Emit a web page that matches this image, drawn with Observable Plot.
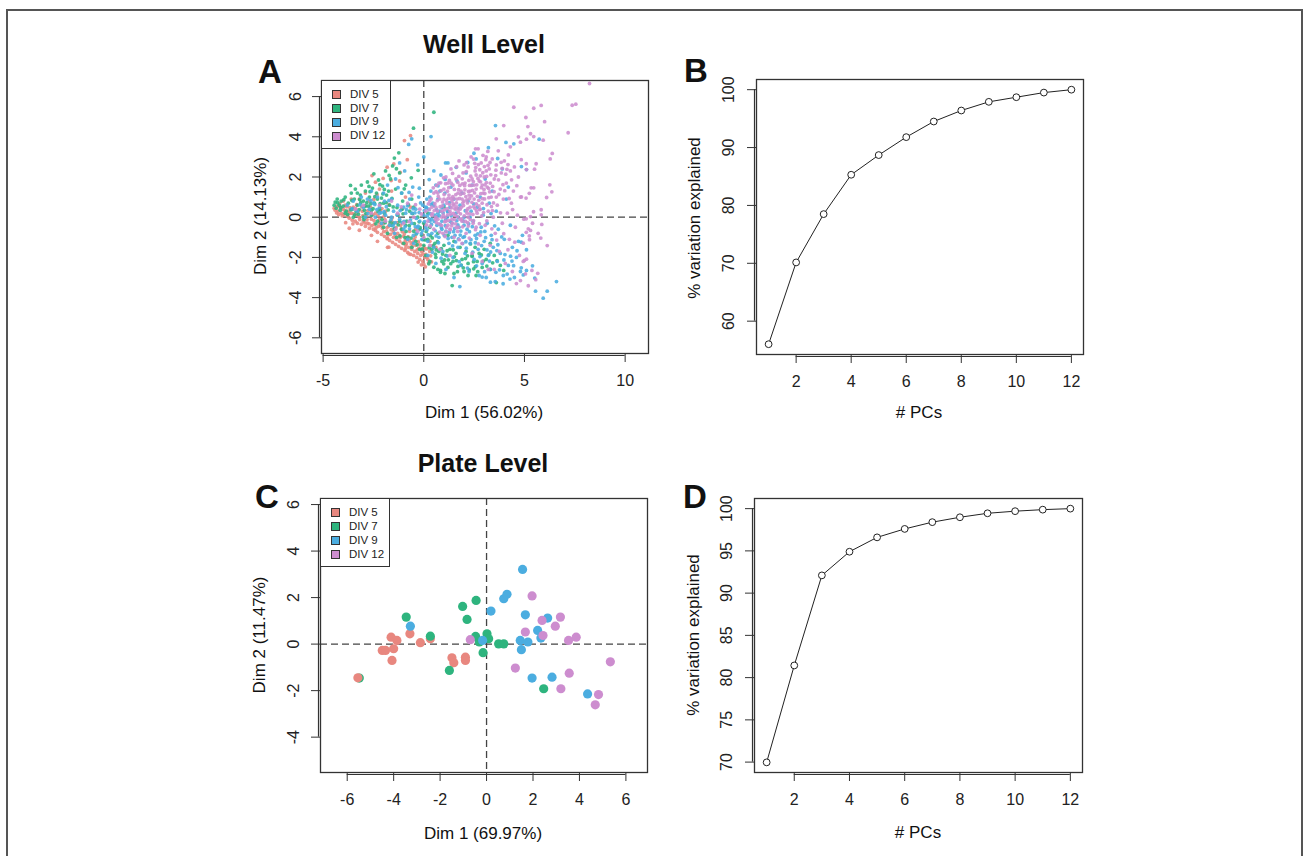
<!DOCTYPE html>
<html><head><meta charset="utf-8">
<script src="https://cdn.jsdelivr.net/npm/d3@7"></script>
<script src="https://cdn.jsdelivr.net/npm/@observablehq/plot@0.6"></script>
<style>
body{margin:0;background:#fff;font-family:"Liberation Sans",Arial,Helvetica,sans-serif;}
#page{position:relative;width:1308px;height:856px;overflow:hidden;background:#fff;}
.outer{position:absolute;left:6px;top:9px;width:1297px;height:870px;border:2.5px solid #555;box-sizing:border-box;}
.panel{position:absolute;}
.t{position:absolute;white-space:nowrap;color:#111;line-height:1;transform:translate(-50%,-50%);}
.legend{position:absolute;border:1.3px solid #333;box-sizing:border-box;background:#fff;}
.li{position:absolute;left:9px;font-size:11.5px;color:#222;line-height:1;}
.sw{position:absolute;width:9px;height:9px;border:1px solid #333;box-sizing:border-box;}
svg text{font-family:"Liberation Sans",Arial,Helvetica,sans-serif;}
</style></head>
<body><div id="page"><div class="outer"></div></div>
<script>
// ---------- data ----------
const groups = ["DIV 5", "DIV 7", "DIV 9", "DIV 12"];
const groupColors = ["#E8877F", "#2EB47E", "#4BADE0", "#CD8DCF"];

const pcs = [1,2,3,4,5,6,7,8,9,10,11,12];
const wellVarExplained = [56.02, 70.15, 78.5, 85.3, 88.7, 91.8, 94.5, 96.4, 97.9, 98.7, 99.5, 100];
const plateVarExplained = [69.97, 81.44, 92.1, 94.9, 96.6, 97.6, 98.4, 98.98, 99.45, 99.7, 99.88, 100];

const wellXTicks = [-5, 0, 5, 10];
const wellYTicks = [-6, -4, -2, 0, 2, 4, 6];
const plateXTicks = [-6, -4, -2, 0, 2, 4, 6];
const plateYTicks = [-4, -2, 0, 2, 4, 6];
const pcTicks = [2, 4, 6, 8, 10, 12];
const wellVarTicks = [60, 70, 80, 90, 100];
const plateVarTicks = [70, 75, 80, 85, 90, 95, 100];

// Well level PCA scores
const wellDiv5 = [[-4.45,0.45],[-4.4,0.35],[-4.3,0.55],[-4.25,0.3],[-4.15,0.5],[-4.1,0.2],[-4.0,0.4],[-3.95,0.15],[-3.9,0.6],[-3.8,0.05],[-3.75,0.3],[-3.7,-0.05],[-3.6,0.2],[-3.55,-0.15],[-3.5,0.5],[-3.4,-0.2],[-3.35,0.1],[-3.3,-0.3],[-3.2,0.0],[-3.1,-0.35],[-3.05,0.3],[-3.0,-0.2],[-2.9,-0.45],[-2.85,0.1],[-2.8,-0.3],[-2.7,-0.55],[-2.65,0.5],[-2.6,-0.1],[-2.5,-0.6],[-2.45,-0.35],[-2.4,0.2],[-2.3,-0.75],[-2.25,-0.45],[-2.2,-0.1],[-2.1,-0.85],[-2.05,-0.55],[-2.0,-0.3],[-1.95,-0.95],[-1.9,0.3],[-1.85,-0.7],[-1.8,-1.05],[-1.75,-0.45],[-1.7,-1.15],[-1.65,-0.85],[-1.6,-0.2],[-1.55,-1.25],[-1.5,-1.0],[-1.45,-0.6],[-1.4,-1.35],[-1.35,-1.1],[-1.3,-0.8],[-1.25,-1.45],[-1.2,-1.2],[-1.15,-0.4],[-1.1,-1.55],[-1.05,-1.3],[-1.0,-0.95],[-0.95,-1.65],[-0.9,-1.4],[-0.85,-1.1],[-0.8,-1.75],[-0.75,-1.5],[-0.7,-0.7],[-0.65,-1.85],[-0.6,-1.6],[-0.55,-1.25],[-0.5,-1.9],[-0.45,-1.7],[-0.4,-1.4],[-0.35,-2.0],[-0.3,-1.8],[-0.25,-1.55],[-0.2,-2.1],[-0.15,-1.9],[-0.1,-1.7],[-0.05,-2.2],[0.0,-2.35],[0.05,-2.0],[0.1,-1.85],[0.2,-2.1],[0.3,-1.7],[-0.66,4.06],[-0.96,3.81],[-1.49,2.65],[-1.82,2.49],[-2.57,2.07],[-2.4,1.74],[-0.91,1.0],[-0.66,0.5],[-2.2,1.4],[-2.9,1.2],[-3.2,0.9],[-1.2,1.8],[-1.6,1.3],[-2.7,0.8],[-3.6,0.9],[-4.0,0.8],[-1.1,0.4],[-0.4,-0.6],[0.3,-1.2],[0.6,-1.5],[-3.7,-0.55],[-3.2,-0.65],[-2.3,-1.2],[-1.8,-1.5],[-2.6,-0.9],[-2.72,-0.33],[-2.4,-0.66],[-1.82,-1.07],[-1.74,-1.49],[-0.91,-1.57],[-0.74,-1.82],
  [-4.23,0.13],[-3.92,0.33],[-3.67,0.48],[-3.48,0.17],[-3.27,0.27],[-3.02,0.08],[-2.82,-0.12],[-2.63,0.23],[-2.47,-0.17],[-2.28,0.08],[-2.13,-0.42],[-1.97,0.05],[-1.83,-0.52],[-1.68,-0.33],[-1.52,-0.73],[-1.38,-0.52],[-1.22,-0.93],[-1.07,-0.72],[-0.92,-1.18],[-0.77,-0.98],[-0.62,-1.33],[-0.48,-1.12],[-0.33,-1.63],[-0.17,-1.38],[-0.04,-1.83],[0.13,-1.58],[0.24,-2.27],[-0.12,-2.37],[-0.28,-2.23],[-2.92,0.57],[-2.48,0.88],[-2.08,0.43],[-1.73,0.62],[-1.28,0.13],[-3.33,0.62],[-2.32,1.12],[-1.62,1.82],[-1.17,2.23],[-0.82,2.86],[-2.02,1.93],
  [-4.33,0.22],[-4.18,0.68],[-4.05,0.07],[-3.83,0.52],[-3.71,0.18],[-3.52,-0.33],[-3.38,0.42],[-3.18,-0.12],[-3.08,0.52],[-2.93,-0.28],[-2.78,0.32],[-2.58,-0.42],[-2.52,0.12],[-2.37,-0.52],[-2.21,-0.27],[-2.16,0.33],[-1.99,-0.72],[-1.93,-0.12],[-1.78,-0.88],[-1.62,-0.62],[-1.57,-0.03],[-1.42,-0.88],[-1.33,-0.27],[-1.18,-1.02],[-1.12,-0.58],[-0.97,-0.83],[-0.86,-1.32],[-0.72,-1.18],[-0.57,-1.47],[-0.43,-0.98],[-0.27,-1.22],[-0.13,-1.62],[0.02,-1.52],[0.16,-1.98],[0.34,-1.92],[0.44,-1.42],[-0.06,-0.88],[0.08,-2.47],[0.38,-2.22],[-3.88,-0.27]];

const wellDiv7 = [[-4.45,0.6],[-4.4,0.75],[-4.35,0.45],[-4.3,0.9],[-4.2,0.6],[-4.15,0.35],[-4.1,0.8],[-4.0,0.55],[-3.9,1.0],[-3.85,0.3],[-3.75,0.7],[-3.64,1.58],[-3.6,1.2],[-3.55,0.4],[-3.45,0.9],[-3.4,1.4],[-3.3,0.6],[-3.25,0.15],[-3.15,1.1],[-3.1,1.6],[-3.0,0.8],[-2.95,0.35],[-2.9,1.3],[-2.8,1.75],[-2.75,0.55],[-2.7,1.0],[-2.6,0.1],[-2.55,1.45],[-2.48,2.16],[-2.45,0.7],[-2.35,1.2],[-2.3,-0.2],[-2.25,1.85],[-2.2,0.4],[-2.1,0.95],[-2.05,1.55],[-2.0,-0.5],[-1.95,0.2],[-1.9,2.3],[-1.85,1.1],[-1.8,-0.8],[-1.7,0.6],[-1.65,1.9],[-1.6,-0.4],[-1.55,2.55],[-1.46,2.94],[-1.4,1.4],[-1.35,-1.0],[-1.3,0.1],[-1.24,3.2],[-1.2,2.2],[-1.1,-0.6],[-1.05,0.8],[-1.0,-1.3],[-0.9,1.6],[-0.85,-0.2],[-0.8,-1.0],[-0.7,0.3],[-0.6,-1.5],[-0.51,4.43],[-0.5,-0.7],[-0.4,-1.2],[-0.3,0.0],[-0.2,-1.6],[-0.1,-0.9],[0.0,-1.4],[0.5,5.22],[0.1,-1.9],[0.2,-1.1],[0.3,-2.2],[0.4,-1.6],[0.5,-2.49],[0.55,-1.3],[0.6,-2.0],[0.7,-2.6],[0.75,-1.7],[0.83,-2.74],[0.9,-2.2],[1.0,-1.4],[1.05,-2.8],[1.1,-1.9],[1.2,-2.5],[1.3,-1.6],[1.41,-3.4],[1.45,-2.2],[1.5,-2.8],[1.6,-1.8],[1.7,-2.45],[1.8,-1.5],[1.9,-2.1],[2.0,-2.7],[2.1,-1.7],[2.2,-2.3],[2.32,-1.33],[2.4,-1.9],[2.48,-2.57],[2.55,-1.5],[2.65,-2.2],[2.75,-1.8],[2.9,-2.5],[3.0,-1.6],[3.1,-2.1],[3.3,-2.6],[3.5,-1.9],[3.64,-2.16],[3.8,-2.4],[3.97,-2.65],[3.6,-3.25],[2.2,-2.9],[0.3,-0.5],[0.7,-0.8],[1.2,-0.9],[0.0,-0.3],[-0.5,0.5],[-0.9,-0.4],[1.5,-1.2],[2.6,-2.9],[3.3,-1.3],[0.2,0.2],[1.0,0.5],[-1.5,-0.3],[-2.6,0.35],[-3.0,0.0],[-3.5,0.0],[-3.9,0.2],[-2.0,0.7],[-1.2,-0.2],[0.83,-2.65],[0.99,-2.32],[0.25,-2.32],[2.4,-1.95],[-3.3,1.2],[-2.9,0.55],[-2.3,0.9],[-1.75,1.3],[-1.1,1.2],[-0.6,0.9],[-0.2,-0.6],
  [-3.62,0.37],[-3.43,0.12],[-3.21,0.38],[-2.97,-0.12],[-2.83,0.72],[-2.67,1.27],[-2.52,0.42],[-2.38,-0.33],[-2.17,0.67],[-2.03,1.16],[-1.92,-0.27],[-1.77,0.36],[-1.58,0.93],[-1.47,-0.57],[-1.33,0.48],[-1.18,-0.93],[-1.03,0.17],[-0.88,-0.71],[-0.76,0.62],[-0.63,-1.04],[-0.47,-0.32],[-0.33,-1.37],[-0.18,-0.52],[-0.04,-1.12],[0.12,-0.71],[0.27,-1.52],[0.42,-1.03],[0.58,-1.84],[0.68,-1.22],[0.87,-1.56],[1.03,-2.13],[1.16,-1.67],[1.34,-2.31],[1.52,-1.97],[1.67,-2.71],[1.86,-2.38],[2.07,-2.06],[2.26,-2.62],[2.47,-2.21],[2.68,-2.71],[2.86,-1.88],[3.13,-2.43],[3.42,-2.27],[-2.18,1.62],[-1.72,2.08],[-1.36,2.41],[-1.96,1.38],[-2.72,1.53],[-3.18,0.88],[-0.97,1.41],[-0.62,1.96],[-0.28,2.33],
  [-4.28,0.72],[-4.12,0.47],[-3.97,0.87],[-3.78,0.13],[-3.57,0.83],[-3.36,0.28],[-3.13,0.72],[-2.88,0.18],[-2.63,0.67],[-2.43,1.02],[-2.27,0.28],[-2.07,-0.12],[-1.87,0.73],[-1.67,-0.23],[-1.52,0.51],[-1.27,-0.38],[-1.08,0.39],[-0.93,-1.02],[-0.72,-0.42],[-0.56,0.18],[-0.38,-0.83],[-0.23,-0.23],[-0.08,-1.58],[0.07,-1.13],[0.33,-0.92],[0.48,-1.43],[0.62,-1.63],[0.93,-1.83],[1.22,-2.12],[1.46,-1.62],[1.62,-2.16],[1.96,-2.52],[2.17,-1.92],[2.56,-2.46],[2.96,-2.18],[3.23,-1.87]];

const wellDiv9 = [[-3.8,0.6],[-3.5,0.8],[-3.3,0.3],[-3.1,1.0],[-3.0,0.5],[-2.9,0.0],[-2.8,0.9],[-2.7,0.4],[-2.6,1.3],[-2.5,0.7],[-2.4,0.0],[-2.3,1.0],[-2.2,0.5],[-2.1,-0.3],[-2.0,1.2],[-1.95,0.8],[-1.9,0.1],[-1.8,1.6],[-1.7,-0.4],[-1.6,0.9],[-1.5,0.3],[-1.45,-0.8],[-1.4,1.9],[-1.3,0.6],[-1.2,-0.1],[-1.1,1.2],[-1.0,-0.6],[-0.95,2.3],[-0.9,0.2],[-0.8,-1.1],[-0.75,3.62],[-0.7,0.9],[-0.6,-0.3],[-0.55,1.5],[-0.5,-1.3],[-0.4,0.4],[-0.35,-0.8],[-0.3,2.6],[-0.25,1.0],[-0.2,-0.2],[-0.1,-1.1],[-0.05,0.6],[0.36,4.01],[-0.6,3.9],[0.0,0.1],[0.1,-0.5],[0.15,0.9],[0.2,-1.2],[0.25,0.4],[0.3,-0.2],[0.35,1.3],[0.4,-0.8],[0.45,0.7],[0.5,-1.5],[0.55,0.1],[0.6,1.6],[0.65,-0.4],[0.7,0.9],[0.75,-1.0],[0.8,0.3],[0.85,2.1],[0.9,-0.2],[0.95,-1.7],[1.0,0.6],[1.05,1.2],[1.1,-0.7],[1.15,0.0],[1.2,2.7],[1.25,-1.3],[1.3,0.5],[1.35,1.5],[1.4,-0.3],[1.45,-2.0],[1.5,0.9],[1.55,-0.9],[1.6,0.2],[1.65,1.8],[1.7,-1.5],[1.75,-0.5],[1.8,0.6],[1.85,-2.4],[1.9,1.2],[1.95,-1.0],[2.0,0.0],[2.05,-1.8],[2.1,2.2],[2.15,-0.6],[2.2,0.8],[2.25,-2.7],[2.3,-1.3],[2.35,0.3],[2.4,1.6],[2.45,-0.2],[2.5,-2.1],[2.55,-0.9],[2.6,2.9],[2.65,0.5],[2.7,-1.6],[2.75,-2.9],[2.8,1.0],[2.85,-0.5],[2.9,-2.3],[2.95,0.1],[3.0,-1.2],[3.05,1.9],[3.1,-3.0],[3.15,-0.3],[3.2,-1.9],[3.25,0.7],[3.3,-2.6],[3.35,-0.9],[3.4,1.3],[3.45,-1.5],[3.56,4.56],[3.55,-3.2],[3.6,0.3],[3.65,-2.2],[3.7,-0.6],[3.8,-1.8],[3.9,2.4],[3.95,-2.9],[4.0,-1.1],[4.1,0.9],[4.2,-2.4],[4.3,-0.4],[4.4,-1.5],[4.47,3.65],[4.6,-2.0],[4.7,-1.2],[4.8,-2.7],[4.5,-3.0],[4.2,1.5],[4.9,-0.9],[4.84,-1.24],[5.1,-1.62],[5.4,-2.42],[5.1,-2.65],[4.94,-2.87],[4.84,-2.52],[5.51,-3.03],[6.59,-3.2],[5.55,-3.68],[6.13,-3.68],[5.93,-4.03],[5.73,3.88],[4.85,2.52],[5.1,2.37],[1.79,-3.45],[3.31,-3.23],[2.9,-2.98],[0.0,3.0],[0.5,2.3],[1.08,2.7],[-1.2,2.7],[0.2,-1.9],[0.6,-2.3],[1.1,-2.6],[1.5,-3.0],[0.1,0.5],[0.4,-0.1],[0.7,0.2],[0.9,-0.6],[1.2,0.3],[1.4,-1.0],[1.7,0.0],[2.0,-0.4],[2.3,0.0],[0.3,1.0],[0.8,1.3],[-0.3,-0.5],[-0.6,0.2],[-1.0,0.5],[-1.6,0.0],[-2.2,0.2],
  [-1.42,-0.27],[-1.17,0.33],[-0.93,-0.48],[-0.81,0.57],[-0.66,-0.13],[-0.52,-0.91],[-0.44,0.22],[-0.28,-0.44],[-0.16,0.71],[-0.07,-0.68],[0.04,-0.22],[0.13,0.47],[0.22,-0.87],[0.31,0.18],[0.38,-0.36],[0.49,0.58],[0.57,-0.68],[0.66,0.03],[0.73,-1.27],[0.82,-0.37],[0.91,0.46],[1.02,-0.91],[1.09,-0.12],[1.18,0.27],[1.27,-0.76],[1.36,0.07],[1.43,-1.43],[1.53,-0.57],[1.64,-0.18],[1.72,-1.08],[1.84,-0.69],[1.93,-1.31],[2.02,-0.97],[2.11,-1.54],[2.23,-0.33],[2.34,-1.12],[2.43,-1.74],[2.56,-1.27],[2.68,-0.83],[2.79,-1.96],[2.87,-1.41],[3.03,-0.71],[3.14,-1.63],[3.26,-2.18],[3.39,-1.12],[3.52,-0.43],[3.68,-1.37],[3.76,-2.62],[3.87,-0.98],[4.03,-1.86],[4.14,-2.83],[4.31,-1.94],[4.46,-2.41],[4.63,-1.67],[-2.43,0.63],[-2.12,0.23],[-1.86,0.52],[-1.63,-0.12],[-2.77,0.18],[-3.17,0.62],[-3.56,0.42],[-1.28,1.47],[-0.73,1.23],[-0.22,1.44],[0.27,1.87],[0.71,1.56],[1.06,1.88],[1.61,2.48],[2.18,2.72],[2.49,3.18],[3.21,3.46],[3.67,2.92],[4.08,3.72],[1.17,-1.93],[0.86,-2.04],[0.43,-1.74],[1.76,-2.21],[2.17,-2.53],[2.62,-2.42],[3.02,-2.71],[3.58,-2.74],[3.94,-3.31],[4.28,-3.08],[-0.98,-0.21],[-0.37,-0.06],[0.18,0.07],[0.63,0.38],[1.28,0.72],[1.73,0.43],[2.06,0.32],[2.48,0.66],[2.96,0.43],[3.34,0.18],
  [-2.63,0.83],[-2.33,0.38],[-1.97,0.27],[-1.73,0.83],[-1.52,-0.42],[-1.33,0.12],[-1.07,-0.27],[-0.86,0.38],[-0.71,-0.58],[-0.53,0.42],[-0.42,-0.47],[-0.23,0.23],[-0.12,-0.82],[0.03,0.33],[0.16,-0.63],[0.27,-0.08],[0.36,0.63],[0.52,-0.21],[0.61,-0.93],[0.78,0.07],[0.87,-0.52],[0.96,0.21],[1.07,-0.42],[1.21,-1.06],[1.32,-0.21],[1.48,-0.72],[1.58,-1.23],[1.69,-0.38],[1.81,-0.89],[1.96,-0.19],[2.09,-1.22],[2.27,-0.72],[2.41,-0.47],[2.62,-1.06],[2.83,-0.73],[3.07,-1.02],[3.32,-1.73],[3.63,-1.66],[3.98,-2.13],[4.38,-2.18]];

const wellDiv12 = [[0.1,0.3],[0.2,-0.2],[0.3,0.8],[0.4,0.1],[0.5,-0.6],[0.5,1.2],[0.6,0.5],[0.7,-0.1],[0.75,1.7],[0.8,0.9],[0.9,0.3],[0.95,-0.8],[1.0,1.4],[1.05,0.0],[1.1,2.0],[1.15,0.7],[1.2,-0.4],[1.25,1.1],[1.3,0.3],[1.35,2.4],[1.4,-0.1],[1.45,1.6],[1.5,0.6],[1.5,-1.0],[1.55,0.1],[1.6,1.9],[1.65,0.9],[1.7,-0.5],[1.75,2.8],[1.8,0.4],[1.85,1.3],[1.9,-0.2],[1.95,2.2],[2.0,0.8],[2.05,1.7],[2.1,-0.8],[2.15,0.2],[2.2,2.5],[2.25,1.1],[2.3,0.5],[2.35,3.0],[2.4,1.9],[2.45,-0.3],[2.5,0.9],[2.55,2.3],[2.6,1.4],[2.65,0.2],[2.7,3.4],[2.75,1.8],[2.8,-0.9],[2.85,2.7],[2.9,0.7],[2.95,1.2],[3.0,2.0],[3.05,-0.4],[3.1,3.0],[3.15,1.5],[3.2,0.3],[3.25,2.4],[3.3,-1.4],[3.35,1.0],[3.4,2.9],[3.45,0.0],[3.5,1.9],[3.55,-0.8],[3.6,2.6],[3.65,0.6],[3.7,3.3],[3.75,-1.7],[3.8,1.4],[3.85,2.2],[3.9,-0.3],[3.95,0.9],[4.0,2.8],[4.05,-2.3],[4.1,1.7],[4.15,0.2],[4.2,3.1],[4.25,-1.1],[4.3,2.3],[4.35,0.7],[4.4,-2.7],[4.45,1.3],[4.5,2.5],[4.55,-0.5],[4.6,-3.3],[4.65,0.1],[4.7,2.0],[4.75,-1.9],[4.8,1.0],[-0.2,0.4],[-0.5,0.0],[-0.8,0.7],[-1.0,-0.3],[-1.3,0.2],[-1.6,0.8],[-1.9,-0.2],[-2.2,0.6],[-2.6,0.2],[-3.0,0.6],[-3.4,0.4],[-0.3,-0.7],[0.0,-1.0],[-0.6,1.1],[-1.4,-0.6],[0.3,-1.4],[0.8,-1.6],[1.3,-1.9],[1.9,-1.3],[2.4,-1.8],[2.9,-2.2],[3.5,-2.6],[3.2,-2.6],[8.23,6.65],[5.46,5.42],[5.83,5.56],[7.37,5.57],[7.55,5.62],[5.07,4.96],[5.17,4.51],[6.0,4.75],[7.17,4.2],[5.3,4.15],[5.46,4.01],[5.1,3.88],[5.93,3.83],[6.38,3.17],[6.28,2.9],[5.58,2.66],[5.09,2.66],[4.84,2.86],[5.5,2.39],[5.1,2.37],[6.26,1.61],[6.36,1.26],[5.33,1.46],[5.46,1.46],[5.24,1.19],[6.1,0.98],[4.85,1.01],[5.08,0.95],[4.8,3.73],[5.45,0.27],[5.83,0.37],[5.83,0.12],[5.3,0.03],[4.97,-0.1],[5.09,-0.08],[5.4,-0.3],[5.86,-0.36],[5.19,-0.58],[5.3,-0.66],[5.09,-0.75],[5.68,-0.8],[5.24,-0.93],[5.25,-1.12],[5.81,-1.04],[6.13,-1.41],[4.94,-1.29],[5.0,-2.15],[5.1,-2.09],[4.94,-2.2],[5.37,-2.65],[5.66,-2.79],[5.05,-2.82],[5.56,-3.11],[5.19,-3.41],[4.8,-3.15],[4.47,5.47],[3.97,4.56],[4.7,4.0],[3.6,3.9],[4.3,3.5],[2.57,3.4],[0.6,0.0],[1.0,0.9],[1.3,-0.6],[1.6,0.4],[1.9,0.9],[2.2,0.0],[2.5,1.6],[2.8,0.4],[3.1,2.3],[1.2,1.7],[1.7,1.2],[2.0,2.6],[2.6,2.1],[3.3,1.7],[0.9,0.0],[1.4,0.8],[2.3,1.3],[2.9,1.6],[3.6,1.0],[1.1,-0.2],[1.8,-0.1],[2.6,-0.5],[0.4,0.5],[0.7,1.2],
  [0.42,0.18],[0.63,-0.27],[0.81,0.52],[0.97,0.11],[1.12,0.84],[1.23,-0.16],[1.38,0.47],[1.44,1.02],[1.57,-0.33],[1.62,0.71],[1.71,0.26],[1.83,1.14],[1.88,-0.08],[1.97,0.58],[2.04,1.36],[2.13,0.33],[2.21,-0.44],[2.28,0.92],[2.36,1.58],[2.44,0.14],[2.52,1.21],[2.61,0.66],[2.69,1.93],[2.77,0.38],[2.86,1.47],[2.93,2.21],[3.02,0.91],[3.11,1.72],[3.19,2.58],[3.27,1.26],[0.55,0.67],[0.72,1.03],[0.88,-0.41],[1.03,0.37],[1.17,1.29],[1.31,-0.62],[1.47,0.19],[1.52,1.38],[1.68,-0.71],[1.77,0.93],[1.92,1.66],[2.07,-0.21],[2.17,0.71],[2.33,2.04],[2.48,0.52],[2.57,-0.62],[2.66,1.04],[2.82,1.76],[2.97,0.23],[3.08,2.86],[0.33,-0.45],[0.47,1.46],[0.68,0.31],[0.79,-0.74],[0.93,0.76],[1.08,1.67],[1.19,0.12],[1.34,0.93],[1.41,-0.29],[1.59,1.12],[1.66,0.03],[1.79,1.58],[1.86,0.49],[2.01,0.07],[2.09,1.02],[2.24,1.83],[2.31,-0.12],[2.42,1.33],[2.58,2.47],[2.73,0.84],[2.88,0.06],[2.99,1.38],[3.14,0.62],[3.33,2.11],[3.42,1.53],[3.58,2.34],[3.71,1.86],[3.84,2.73],[3.93,1.62],[4.07,2.14],[0.23,0.66],[0.58,-0.11],[0.86,1.32],[1.13,-0.51],[1.29,0.63],[1.54,0.42],[1.74,2.03],[1.99,1.19],[2.19,0.42],[2.39,0.74],[2.62,0.31],[2.83,1.17],[3.04,1.61],[3.23,0.97],[3.46,0.71],[2.12,2.71],[2.47,2.89],[2.71,2.62],[2.94,3.08],[3.18,3.27],[1.43,2.18],[1.63,2.51],[1.27,1.83],[0.98,1.96],[0.64,1.58],[0.14,-0.38],[-0.12,0.16],[-0.41,0.62],[-0.73,-0.22],[-1.12,0.51],[1.06,-0.96],[1.76,-1.12],[2.26,-1.04],[2.71,-1.33],[3.38,-0.58],[3.62,-1.14],[3.97,-0.82],[4.18,-1.62],[4.52,-1.24],[3.81,0.22],[4.24,0.93],[4.41,0.38],[4.62,1.57],[4.18,2.62],[4.36,1.86],
  [0.52,0.33],[0.67,0.82],[0.76,-0.33],[0.92,0.56],[1.04,-0.23],[1.16,0.43],[1.24,1.47],[1.33,0.16],[1.46,0.66],[1.53,-0.12],[1.64,0.51],[1.73,1.37],[1.82,0.17],[1.94,0.71],[2.03,1.57],[2.14,0.86],[2.22,1.28],[2.29,0.17],[2.37,1.06],[2.46,1.77],[2.54,0.43],[2.63,1.61],[2.74,0.56],[2.81,2.06],[2.91,0.92],[3.03,1.18],[3.12,2.03],[3.22,1.43],[3.36,0.53],[3.49,1.27],[3.57,2.07],[3.73,1.13],[3.89,2.43],[4.02,1.32],[4.13,2.38],[0.37,0.91],[0.61,1.27],[0.84,1.71],[1.01,1.13],[1.21,0.94],[1.36,1.69],[1.49,0.93],[1.69,1.73],[1.91,1.91],[2.11,2.27],[2.27,1.58],[2.53,2.68],[2.78,2.36],[3.01,2.52],[3.29,2.72],[1.11,-0.73],[1.39,-0.43],[1.61,-0.52],[1.93,-0.48],[2.18,-0.27],[2.47,-0.17],[2.76,-0.32],[3.13,-0.18],[3.41,0.33],[0.28,0.38]];

// Plate level PCA scores
const plateDiv5 = [[-5.54,-1.45],[-4.11,0.30],[-3.86,0.16],[-4.0,-0.2],[-4.49,-0.27],[-4.35,-0.27],[-4.07,-0.70],[-3.30,0.44],[-2.85,0.06],[-2.42,0.23],[-1.49,-0.59],[-1.41,-0.80],[-0.91,-0.56],[-0.91,-0.70]];
const plateDiv7 = [[-5.48,-1.46],[-3.46,1.16],[-2.42,0.34],[-1.60,-1.13],[-1.03,1.62],[-0.84,1.06],[-0.45,1.88],[-0.47,0.33],[-0.31,0.09],[-0.15,-0.37],[0.02,0.44],[0.09,0.23],[0.52,0.01],[0.74,0.01],[2.46,-1.92]];
const plateDiv9 = [[-3.28,0.77],[-0.17,0.16],[0.19,1.42],[0.74,1.95],[0.88,2.14],[1.55,3.21],[1.67,1.26],[1.45,0.16],[1.50,-0.24],[1.78,0.09],[2.20,0.59],[2.34,0.26],[2.63,1.12],[1.96,-1.46],[2.82,-1.42],[4.35,-2.14]];
const plateDiv12 = [[-0.70,0.19],[1.24,-1.03],[1.67,0.52],[1.96,2.07],[2.39,1.02],[2.43,0.37],[2.96,0.77],[3.18,1.16],[3.20,-1.92],[3.53,0.16],[3.56,-1.25],[3.86,0.30],[4.82,-2.17],[4.68,-2.61],[5.33,-0.76]];

// ---------- helpers ----------
const page = document.getElementById("page");
const FONT = '"Liberation Sans", Arial, Helvetica, sans-serif';
const color = {domain: groups, range: groupColors};

function toRows(arrs) {
  const rows = [];
  arrs.forEach((arr, i) => arr.forEach(([x, y]) => rows.push({x, y, g: groups[i]})));
  return rows;
}
function addText(txt, cx, cy, size, opts = {}) {
  const d = document.createElement("div");
  d.className = "t";
  d.textContent = txt;
  d.style.left = cx + "px";
  d.style.top = cy + "px";
  d.style.fontSize = size + "px";
  if (opts.bold) d.style.fontWeight = "bold";
  if (opts.rotate) d.style.transform = "translate(-50%,-50%) rotate(-90deg)";
  page.appendChild(d);
}
function addPanel(svg, left, top) {
  const d = document.createElement("div");
  d.className = "panel";
  d.style.left = left + "px";
  d.style.top = top + "px";
  d.appendChild(svg);
  page.appendChild(d);
}
function addLegend(left, top, w, h, rowYs) {
  const box = document.createElement("div");
  box.className = "legend";
  box.style.left = left + "px"; box.style.top = top + "px";
  box.style.width = w + "px"; box.style.height = h + "px";
  groups.forEach((g, i) => {
    const s = document.createElement("div");
    s.className = "sw";
    s.style.left = "10px";
    s.style.top = (rowYs[i] - 4.5) + "px";
    s.style.background = groupColors[i];
    box.appendChild(s);
    const t = document.createElement("div");
    t.className = "li";
    t.style.left = "28px";
    t.style.top = (rowYs[i] - 6) + "px";
    t.textContent = g;
    box.appendChild(t);
  });
  page.appendChild(box);
}
function axesMarks(xTicks, yTicks, xDom, yDom, ydx) {
  const fmt = d => String(d);
  return [
    Plot.frame({stroke: "#333", strokeWidth: 1.3}),
    Plot.axisX({ticks: xTicks, tickSize: 9, tickPadding: 12, tickFormat: fmt, fontSize: 16, label: null, stroke: "#333", color: "#222"}),
    Plot.axisY({ticks: yTicks, tickSize: 9, tickFormat: () => "", label: null, stroke: "#333"}),
    Plot.ruleY([yDom[0]], {x1: () => xTicks[0], x2: () => xTicks[xTicks.length - 1], dy: 2, stroke: "#333", strokeWidth: 1.2}),
    Plot.ruleX([xDom[0]], {y1: () => yTicks[0], y2: () => yTicks[yTicks.length - 1], dx: -2, stroke: "#333", strokeWidth: 1.2}),
    Plot.text(yTicks, {y: d => d, text: fmt, frameAnchor: "left", dx: ydx, rotate: -90, textAnchor: "middle", fontSize: 16, fill: "#222"})
  ];
}

// ---------- Panel A ----------
{
  const xDom = [-5.08, 11.16], yDom = [-6.78, 6.8];
  const svg = Plot.plot({
    width: 420, height: 370,
    marginLeft: 81, marginTop: 20, marginRight: 12, marginBottom: 77,
    style: {fontFamily: FONT, background: "transparent"},
    x: {domain: xDom}, y: {domain: yDom},
    color,
    marks: [
      Plot.ruleX([0], {stroke: "#444", strokeWidth: 1.3, strokeDasharray: "7,4"}),
      Plot.ruleY([0], {stroke: "#444", strokeWidth: 1.3, strokeDasharray: "7,4"}),
      Plot.dot(toRows([wellDiv5, wellDiv7, wellDiv9, wellDiv12]), {x: "x", y: "y", fill: "g", r: 1.9, fillOpacity: 0.88}),
      ...axesMarks(wellXTicks, wellYTicks, xDom, yDom, -26)
    ]
  });
  addPanel(svg, 240, 60);
  addLegend(321, 80, 70, 68.5, [13.5, 27.5, 41.2, 55.2]);
}

// ---------- Panel B ----------
{
  const xDom = [0.56, 12.44], yDom = [54.24, 101.76];
  const rows = pcs.map((p, i) => ({pc: p, v: wellVarExplained[i]}));
  const svg = Plot.plot({
    width: 440, height: 370,
    marginLeft: 96, marginTop: 19, marginRight: 17, marginBottom: 76,
    style: {fontFamily: FONT, background: "transparent"},
    x: {domain: xDom}, y: {domain: yDom},
    marks: [
      Plot.line(rows, {x: "pc", y: "v", stroke: "#222", strokeWidth: 1}),
      Plot.dot(rows, {x: "pc", y: "v", r: 3.4, stroke: "#222", fill: "white", strokeWidth: 1}),
      ...axesMarks(pcTicks, wellVarTicks, xDom, yDom, -27.5)
    ]
  });
  addPanel(svg, 660, 60);
}

// ---------- Panel C ----------
{
  const xDom = [-7.15, 6.93], yDom = [-5.52, 6.26];
  const plateRows = toRows([plateDiv5, plateDiv7, plateDiv9, plateDiv12]);
  // the first DIV 7 plate sits beneath the first DIV 5 plate in the original drawing order
  const hidden = plateRows.splice(plateDiv5.length, 1);
  plateRows.unshift(...hidden);
  const svg = Plot.plot({
    width: 420, height: 370,
    marginLeft: 80, marginTop: 18, marginRight: 13, marginBottom: 78,
    style: {fontFamily: FONT, background: "transparent"},
    x: {domain: xDom}, y: {domain: yDom},
    color,
    marks: [
      Plot.ruleX([0], {stroke: "#444", strokeWidth: 1.3, strokeDasharray: "7,4"}),
      Plot.ruleY([0], {stroke: "#444", strokeWidth: 1.3, strokeDasharray: "7,4"}),
      Plot.dot(plateRows, {x: "x", y: "y", fill: "g", r: 4.6}),
      ...axesMarks(plateXTicks, plateYTicks, xDom, yDom, -26.7)
    ]
  });
  addPanel(svg, 240, 480);
  addLegend(320, 498, 69.5, 68.5, [13.7, 27.8, 41.5, 55.5]);
}

// ---------- Panel D ----------
{
  const xDom = [0.56, 12.44], yDom = [68.77, 101.2];
  const rows = pcs.map((p, i) => ({pc: p, v: plateVarExplained[i]}));
  const svg = Plot.plot({
    width: 440, height: 370,
    marginLeft: 94, marginTop: 18, marginRight: 18, marginBottom: 78,
    style: {fontFamily: FONT, background: "transparent"},
    x: {domain: xDom}, y: {domain: yDom},
    marks: [
      Plot.line(rows, {x: "pc", y: "v", stroke: "#222", strokeWidth: 1}),
      Plot.dot(rows, {x: "pc", y: "v", r: 3.4, stroke: "#222", fill: "white", strokeWidth: 1}),
      ...axesMarks(pcTicks, plateVarTicks, xDom, yDom, -27.5)
    ]
  });
  addPanel(svg, 660, 480);
}

// ---------- titles, letters, axis titles ----------
addText("Well Level", 484, 44, 25, {bold: true});
addText("Plate Level", 483, 463, 25, {bold: true});
addText("A", 270, 71, 33, {bold: true});
addText("B", 696, 70, 33, {bold: true});
addText("C", 267, 496, 33, {bold: true});
addText("D", 695, 496, 33, {bold: true});
addText("Dim 1 (56.02%)", 484, 412, 17);
addText("# PCs", 919, 412, 17);
addText("Dim 1 (69.97%)", 483, 833, 17);
addText("# PCs", 918, 832, 17);
addText("Dim 2 (14.13%)", 260, 216, 17, {rotate: true});
addText("% variation explained", 694, 218, 17, {rotate: true});
addText("Dim 2 (11.47%)", 259, 635, 17, {rotate: true});
addText("% variation explained", 693, 635, 17, {rotate: true});
</script>
</body></html>
